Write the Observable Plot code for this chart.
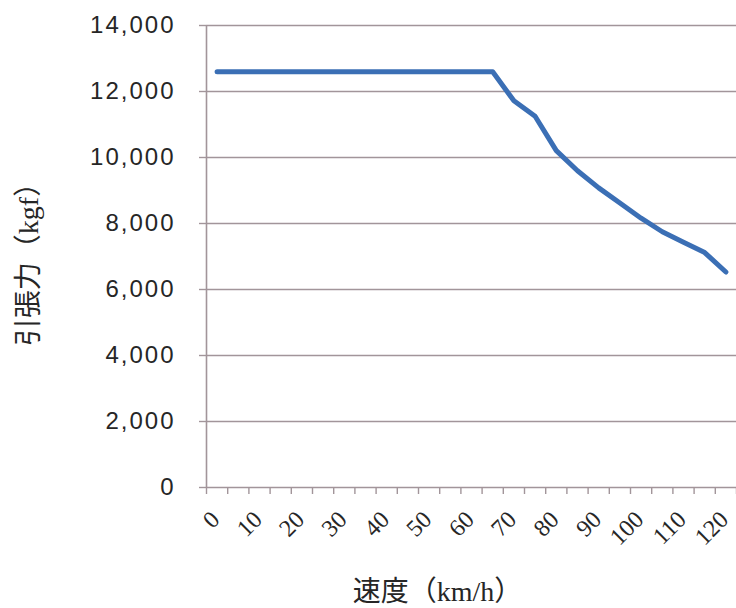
<!DOCTYPE html>
<html>
<head>
<meta charset="utf-8">
<script src="https://cdn.jsdelivr.net/npm/d3@7"></script>
<script src="https://cdn.jsdelivr.net/npm/@observablehq/plot@0.6"></script>
<style>
  html, body { margin: 0; padding: 0; background: #ffffff; }
  svg { display: block; }
</style>
</head>
<body>
<div id="chart"></div>
<script>
// ---- data ----
const speeds = [0, 5, 10, 15, 20, 25, 30, 35, 40, 45, 50, 55, 60, 65,
                70, 75, 80, 85, 90, 95, 100, 105, 110, 115, 120];
const force  = [12600, 12600, 12600, 12600, 12600, 12600, 12600, 12600, 12600, 12600, 12600, 12600, 12600, 12600,
                11720, 11250, 10210, 9600, 9080, 8620, 8160, 7750, 7430, 7120, 6530];
const xLabels = [0, 10, 20, 30, 40, 50, 60, 70, 80, 90, 100, 110, 120];
const yTicks  = [0, 2000, 4000, 6000, 8000, 10000, 12000, 14000];
const xTitle = "速度（km/h）";
const yTitle = "引張力（kgf）";

const rows = speeds.map((s, i) => ({speed: s, force: force[i]}));
// category boundaries (Excel-style category axis, one band per speed)
const half = (speeds[1] - speeds[0]) / 2;
const xBounds = speeds.map(s => s - half).concat([speeds[speeds.length - 1] + half]);
const xMin = xBounds[0], xMax = xBounds[xBounds.length - 1];

const gridColor = "#a2959a";
const lineColor = "#3b6fb5";
const textColor = "#262626";
const fmt = d3.format(",");

const chart = Plot.plot({
  width: 736,
  height: 608,
  marginLeft: 206,
  marginRight: 0,
  marginTop: 25,
  marginBottom: 121,
  x: {domain: [xMin, xMax], axis: null},
  y: {domain: [0, 14000], axis: null},
  marks: [
    // horizontal gridlines
    Plot.ruleY(yTicks, {stroke: gridColor, strokeWidth: 1.6}),
    // y-axis line
    Plot.ruleX([xMin], {y1: 0, y2: 14000, stroke: gridColor, strokeWidth: 1.6}),
    // y tick marks (outside, to the left)
    Plot.ruleY(yTicks, {x1: xMin, x2: xMin, insetLeft: -7, stroke: gridColor, strokeWidth: 1.4}),
    // x tick marks at category boundaries (below the axis)
    Plot.ruleX(xBounds, {y1: 0, y2: 0, insetBottom: -7, stroke: gridColor, strokeWidth: 1.4}),
    // y tick labels
    Plot.text(yTicks, {
      x: xMin, y: d => d, text: d => fmt(d),
      textAnchor: "end", dx: -31, lineAnchor: "middle",
      fontSize: 24, fontFamily: "Liberation Sans, Arial, sans-serif", fill: textColor
    }),
    // x tick labels (rotated)
    Plot.text(xLabels, {
      x: d => d, y: 0, text: d => String(d),
      rotate: -45, textAnchor: "end", lineAnchor: "middle",
      dx: -1.5, dy: 28,
      fontSize: 24, fontFamily: "Liberation Serif, Times New Roman, serif", fill: textColor
    }),
    // data line
    Plot.line(rows, {
      x: "speed", y: "force",
      stroke: lineColor, strokeWidth: 5, strokeLinejoin: "round", strokeLinecap: "round"
    }),
    // axis titles
    Plot.text([xTitle], {
      frameAnchor: "bottom", text: d => d, textAnchor: "middle", dx: -34, dy: 105,
      lineAnchor: "middle", fontSize: 28,
      fontFamily: "Liberation Serif, Noto Sans CJK JP, serif", fill: textColor
    }),
    Plot.text([yTitle], {
      frameAnchor: "left", text: d => d, textAnchor: "middle", rotate: -90, dx: -177, dy: 1,
      lineAnchor: "middle", fontSize: 28,
      fontFamily: "Liberation Serif, Noto Sans CJK JP, serif", fill: textColor
    })
  ]
});

// the reference's y tick labels are set a little wider than Arial
const textGroups = chart.querySelectorAll('g[aria-label="text"]');
if (textGroups.length) d3.select(textGroups[0]).selectAll("text").style("letter-spacing", "2px");

document.getElementById("chart").appendChild(chart);
</script>
</body>
</html>
